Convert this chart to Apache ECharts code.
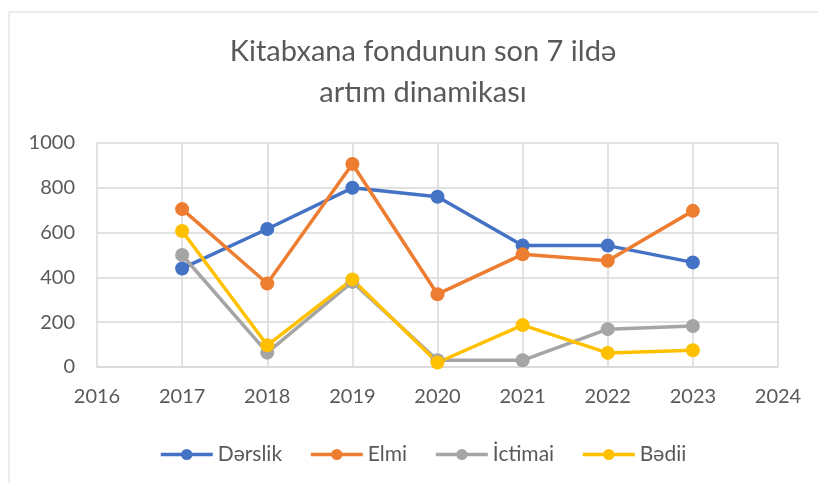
<!DOCTYPE html>
<html>
<head>
<meta charset="utf-8">
<script src="https://cdn.jsdelivr.net/npm/echarts@6/dist/echarts.min.js"></script>
<style>
  html, body { margin: 0; padding: 0; background: #fff; }
  #chart { width: 818px; height: 483px; }
</style>
</head>
<body>
<div id="chart"></div>
<script>
// Kitabxana fondu, 2017-2023
const years = [2017, 2018, 2019, 2020, 2021, 2022, 2023];
const derslik = [440, 616, 800, 760, 542, 542, 467];
const elmi = [705, 373, 906, 325, 503, 474, 697];
const ictimai = [500, 64, 380, 30, 30, 169, 183];
const bedii = [607, 97, 391, 20, 187, 63, 75];

const seriesNames = ['Dərslik', 'Elmi', 'İctimai', 'Bədii'];
const seriesValues = [derslik, elmi, ictimai, bedii];
const colors = ['#4472C4', '#ED7D31', '#A5A5A5', '#FFC000'];

const font = 'Lato, "Open Sans", sans-serif';
const textColor = '#595959';
const gridColor = '#d9d9d9';

const chart = echarts.init(document.getElementById('chart'));

chart.setOption({
  animation: false,
  color: colors,
  graphic: [{
    type: 'rect',
    shape: { x: 9, y: 12, width: 900, height: 600 },
    style: { fill: 'none', stroke: gridColor, lineWidth: 1 },
    silent: true
  }],
  title: {
    text: 'Kitabxana fondunun son 7 ildə\nartım dinamikası',
    left: 418,
    textAlign: 'center',
    top: 26,
    textStyle: {
      fontFamily: font,
      fontWeight: 'normal',
      fontSize: 29,
      color: textColor,
      lineHeight: 41
    }
  },
  legend: {
    bottom: 13,
    left: 154,
    itemWidth: 52,
    itemHeight: 14,
    itemGap: 27,
    lineStyle: { width: 3.5 },
    textStyle: { fontFamily: font, fontSize: 21, color: textColor },
    data: seriesNames
  },
  grid: { left: 97, right: 40, top: 143, bottom: 116, containLabel: false },
  xAxis: {
    type: 'value',
    min: 2016,
    max: 2024,
    interval: 1,
    axisLine: { show: true, lineStyle: { color: gridColor, width: 1.5 } },
    axisTick: { show: false },
    splitLine: { show: true, lineStyle: { color: gridColor, width: 1.5 } },
    axisLabel: {
      fontFamily: font, fontSize: 20, color: textColor, margin: 20,
      formatter: v => String(v)
    }
  },
  yAxis: {
    type: 'value',
    min: 0,
    max: 1000,
    interval: 200,
    axisLine: { show: false },
    axisTick: { show: false },
    splitLine: { show: true, lineStyle: { color: gridColor, width: 1.5 } },
    axisLabel: {
      fontFamily: font, fontSize: 20, color: textColor, margin: 22,
      formatter: v => String(v)
    }
  },
  series: seriesNames.map((name, i) => ({
    name: name,
    type: 'line',
    data: years.map((y, j) => [y, seriesValues[i][j]]),
    symbol: 'circle',
    symbolSize: 14,
    lineStyle: { width: 3.5, color: colors[i] },
    itemStyle: { color: colors[i] }
  }))
});
</script>
</body>
</html>
